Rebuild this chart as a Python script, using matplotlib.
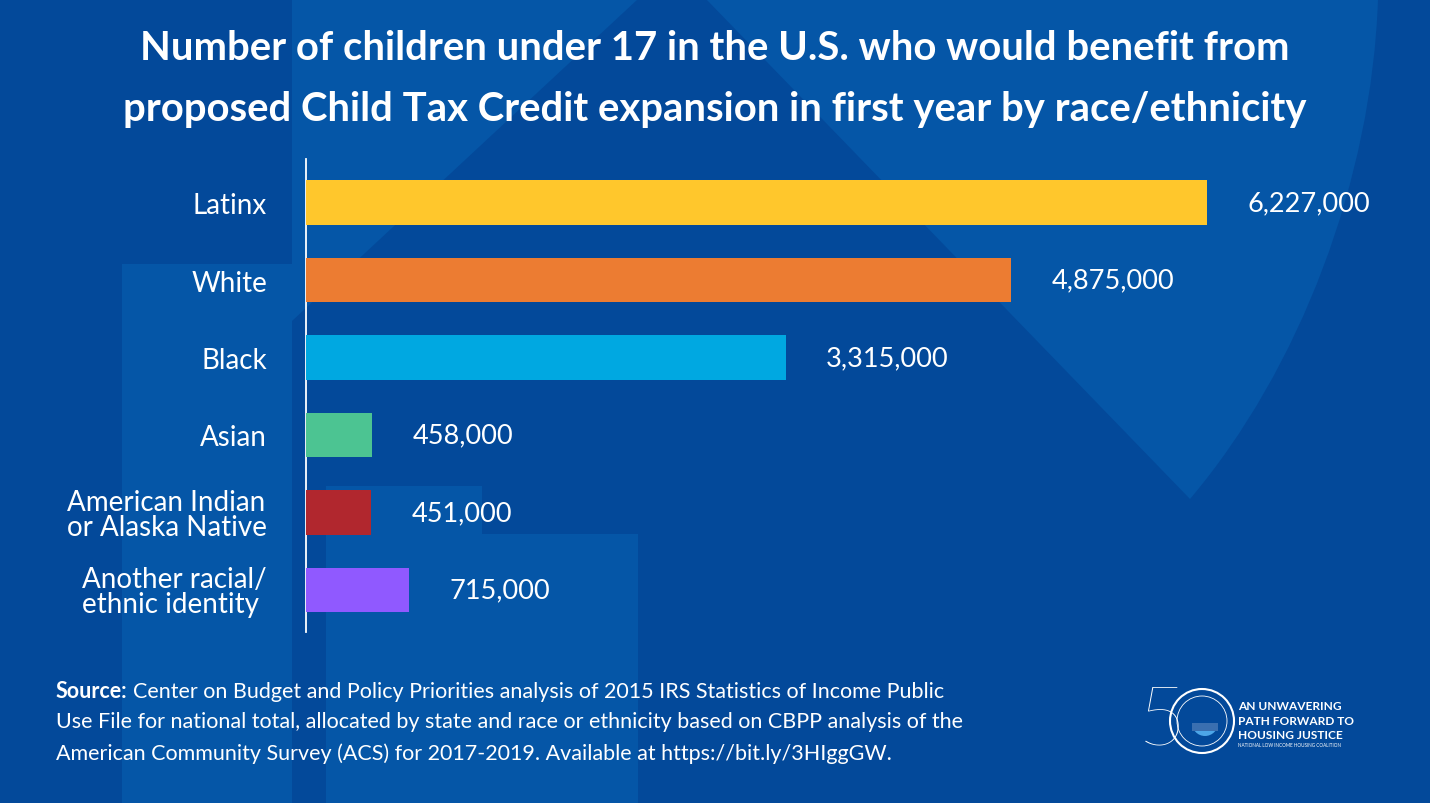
import matplotlib
matplotlib.use("Agg")
import matplotlib.pyplot as plt
from matplotlib.patches import Polygon, Rectangle, Circle, Wedge, PathPatch
from matplotlib.path import Path

categories = ["Latinx", "White", "Black", "Asian",
              "American Indian\nor Alaska Native", "Another racial/\nethnic identity"]
values = [6227000, 4875000, 3315000, 458000, 451000, 715000]
value_labels = ["6,227,000", "4,875,000", "3,315,000", "458,000", "451,000", "715,000"]
colors = ["#FFC72C", "#EC7C32", "#00A8E1", "#4CC492", "#B1272E", "#9059FF"]
title_lines = ["Number of children under 17 in the U.S. who would benefit from",
               "proposed Child Tax Credit expansion in first year by race/ethnicity"]
source_lines = ["Center on Budget and Policy Priorities analysis of 2015 IRS Statistics of Income Public",
                "Use File for national total, allocated by state and race or ethnicity based on CBPP analysis of the",
                "American Community Survey (ACS) for 2017-2019. Available at https://bit.ly/3HIggGW."]

W, H = 1430, 804
BG = "#03499A"
LIGHT = "#0556A7"

fig = plt.figure(figsize=(W / 100, H / 100), dpi=100, facecolor=BG)

# decorative background shapes
bg = fig.add_axes([0, 0, 1, 1], zorder=0)
bg.set_xlim(0, W)
bg.set_ylim(H, 0)
bg.axis("off")
# right teardrop: straight left edge, curved right edge
verts = [(706, 0), (1190, 500), (1300, 370), (1372, 180), (1378, 0), (706, 0)]
codes = [Path.MOVETO, Path.LINETO, Path.CURVE4, Path.CURVE4, Path.CURVE4, Path.CLOSEPOLY]
bg.add_patch(PathPatch(Path(verts, codes), facecolor=LIGHT, lw=0))
# left roof wedge and columns
bg.add_patch(Polygon([[292, 0], [638, 0], [292, 322]], closed=True, color=LIGHT, lw=0))
bg.add_patch(Rectangle((122, 265), 170, 539, color=LIGHT, lw=0))
bg.add_patch(Rectangle((326, 487), 156, 317, color=LIGHT, lw=0))
bg.add_patch(Rectangle((482, 535), 156, 269, color=LIGHT, lw=0))

# title
fig.text(0.5, 1 - 48 / H, title_lines[0], ha="center", va="center", color="white",
         fontsize=28.8, fontweight="bold", family="Lato")
fig.text(0.5, 1 - 110 / H, title_lines[1], ha="center", va="center", color="white",
         fontsize=28.8, fontweight="bold", family="Lato")

# bars
x0, y_top, y_bot = 306, 160, 633
ax = fig.add_axes([x0 / W, 1 - y_bot / H, (W - x0) / W, (y_bot - y_top) / H], zorder=2)
ax.patch.set_alpha(0)
px_per_unit = (1207 - x0) / values[0]
ax.set_xlim(0, (W - x0) / px_per_unit)
pos = list(range(len(categories)))
ax.barh(pos, values, height=0.58, color=colors, zorder=3)
ax.set_ylim(5 + 42 / 77.5, -43.5 / 77.5)
ax.set_yticks(pos)
ax.set_yticklabels(categories)
ax.tick_params(axis="y", length=0, pad=28, labelsize=20, labelcolor="white")
for lab in ax.get_yticklabels():
    lab.set_family("Lato")
    lab.set_multialignment("left")
    lab.set_linespacing(0.95)
ax.set_xticks([])
for s in ["top", "right", "bottom"]:
    ax.spines[s].set_visible(False)
ax.spines["left"].set_color("white")
ax.spines["left"].set_linewidth(1.3)

for p, v, lbl in zip(pos, values, value_labels):
    ax.annotate(lbl, (v, p), xytext=(40 * 0.72, 0), textcoords="offset points",
                ha="left", va="center", color="white", fontsize=19.5, family="Lato")

# source
src_y = [692, 722, 754]
tt = fig.text(56 / W, 1 - src_y[0] / H, "Source:", ha="left", va="center", color="white",
              fontsize=15.5, fontweight="bold", family="Lato")
fig.canvas.draw()
bb = tt.get_window_extent()
fig.text((bb.x1 + 5) / W, 1 - src_y[0] / H, source_lines[0], ha="left", va="center",
         color="white", fontsize=15.5, family="Lato")
for yy, line in zip(src_y[1:], source_lines[1:]):
    fig.text(56 / W, 1 - yy / H, line, ha="left", va="center", color="white",
             fontsize=15.5, family="Lato")

# logo
lg = fig.add_axes([0, 0, 1, 1], zorder=3)
lg.set_xlim(0, W)
lg.set_ylim(H, 0)
lg.axis("off")
lg.text(1138, 722, "5", ha="left", va="center", color="white", fontsize=60,
        family="Lato", fontweight="light")
lg.add_patch(Circle((1202, 722), 32, fill=False, ec="white", lw=1.5))
lg.add_patch(Circle((1202, 722), 25, fill=False, ec="white", lw=0.6))
lg.add_patch(Wedge((1205, 724), 13, 0, 180, color="#4DA6E8", lw=0))
lg.add_patch(Rectangle((1192, 724), 26, 8, color="#3A6FB0", lw=0))
for i, line in enumerate(["AN UNWAVERING", "PATH FORWARD TO", "HOUSING JUSTICE"]):
    lg.text(1238, 707 + i * 14.5, line, ha="left", va="center", color="white", fontsize=8.6,
            fontweight="bold", family="Lato")
lg.text(1238, 745.5, "NATIONAL LOW INCOME HOUSING COALITION", ha="left", va="center",
        color="white", fontsize=3.3, family="Lato")

fig.savefig("out.png", dpi=100, facecolor=BG)
